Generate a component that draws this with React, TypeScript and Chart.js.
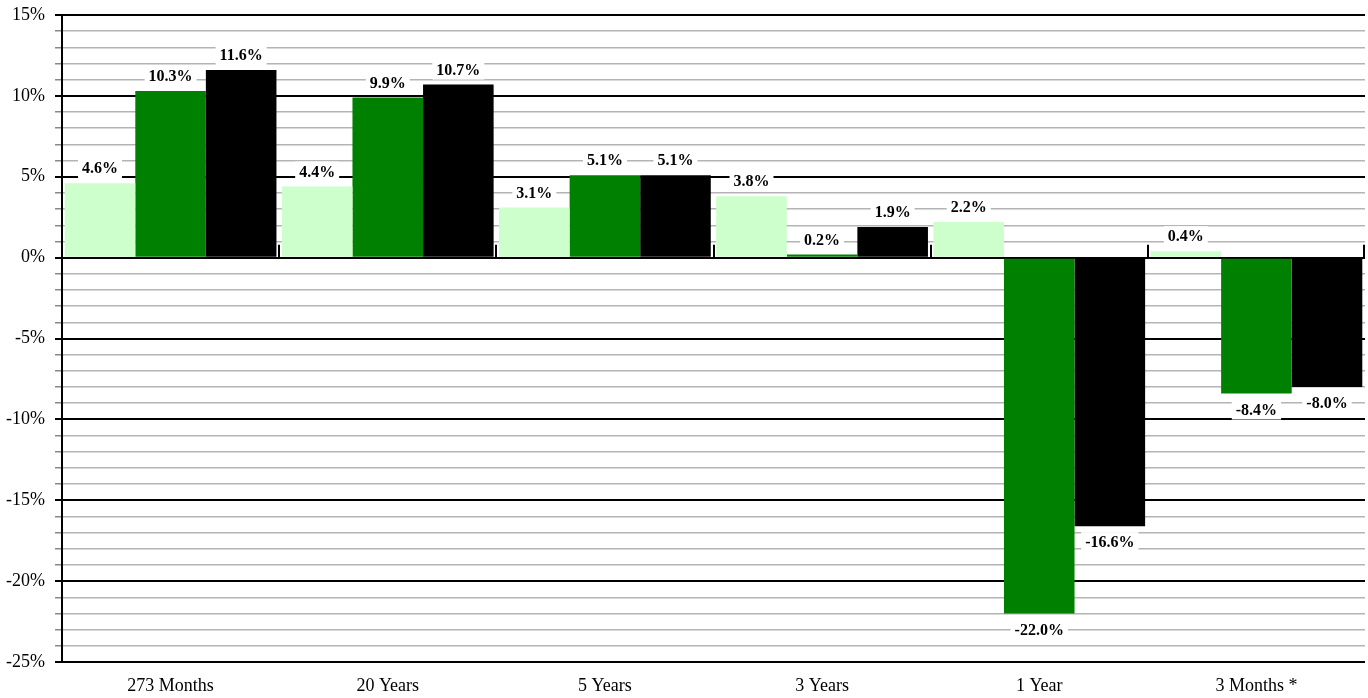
import React, { useEffect, useRef } from "react";
import { Chart, registerables } from "chart.js";

Chart.register(...registerables);

const categories = ["273 Months", "20 Years", "5 Years", "3 Years", "1 Year", "3 Months *"];
const seriesLight = [4.6, 4.4, 3.1, 3.8, 2.2, 0.4];
const seriesGreen = [10.3, 9.9, 5.1, 0.2, -22.0, -8.4];
const seriesBlack = [11.6, 10.7, 5.1, 1.9, -16.6, -8.0];
const yMin = -25;
const yMax = 15;

const SERIF = "'Liberation Serif', 'Times New Roman', serif";

const labelPlugin = {
  id: "valueLabels",
  afterDatasetsDraw(chart: any) {
    const { ctx } = chart;
    const yScale = chart.scales.y;
    const y0 = yScale.getPixelForValue(0);
    const n = categories.length;
    const left = chart.chartArea.left;
    const right = chart.chartArea.right;
    const cw = (right - left) / n;
    ctx.save();
    ctx.strokeStyle = "#000";
    ctx.lineWidth = 2;
    for (let i = 1; i <= n; i++) {
      const x = Math.round(left + cw * i) - (i === n ? 1 : 0);
      ctx.beginPath();
      ctx.moveTo(x, y0 - 13);
      ctx.lineTo(x, y0);
      ctx.stroke();
    }
    ctx.font = `bold 16px ${SERIF}`;
    ctx.textAlign = "center";
    ctx.textBaseline = "middle";
    chart.data.datasets.forEach((ds: any, di: number) => {
      const meta = chart.getDatasetMeta(di);
      meta.data.forEach((el: any, i: number) => {
        const v = ds.data[i];
        const txt = v.toFixed(1) + "%";
        const cy = v >= 0 ? el.y - 15 : el.y + 16;
        const w = ctx.measureText(txt).width + 8;
        ctx.fillStyle = "#fff";
        ctx.fillRect(el.x - w / 2, cy - 10, w, 20);
        ctx.fillStyle = "#000";
        ctx.fillText(txt, el.x, cy + 1);
      });
    });
    ctx.restore();
  },
};

export default function App() {
  const ref = useRef<HTMLCanvasElement>(null);
  useEffect(() => {
    document.body.style.margin = "0";
    const chart = new Chart(ref.current as HTMLCanvasElement, {
      type: "bar",
      data: {
        labels: categories,
        datasets: [
          { data: seriesLight, backgroundColor: "#CCFFCC", borderWidth: 0 },
          { data: seriesGreen, backgroundColor: "#008000", borderWidth: 0 },
          { data: seriesBlack, backgroundColor: "#000000", borderWidth: 0 },
        ],
      },
      options: {
        animation: false,
        responsive: false,
        layout: { padding: { top: 15, right: 3, left: 0, bottom: 0 } },
        datasets: { bar: { categoryPercentage: 0.975, barPercentage: 1.0 } },
        plugins: { legend: { display: false }, tooltip: { enabled: false } },
        scales: {
          x: {
            grid: { display: false },
            border: { display: false },
            ticks: { color: "#000", font: { family: SERIF, size: 18 }, padding: 5, maxRotation: 0 },
            afterFit: (s: any) => { s.height = 36; s.paddingLeft = 0; s.paddingRight = 0; },
          },
          y: {
            min: yMin,
            max: yMax,
            ticks: {
              stepSize: 1,
              autoSkip: false,
              color: "#000",
              font: { family: SERIF, size: 18 },
              padding: 10,
              callback: (v: any) => (Number(v) % 5 === 0 ? v + "%" : ""),
            },
            grid: {
              color: (c: any) => (c.tick && c.tick.value % 5 === 0 ? "#000" : "#b4b4b4"),
              lineWidth: (c: any) => (c.tick && c.tick.value % 5 === 0 ? 2 : 1.5),
              tickLength: 7,
              tickColor: (c: any) => (c.tick && c.tick.value % 5 === 0 ? "#000" : "#888"),
            },
            border: { display: true, color: "#000", width: 2 },
            afterFit: (s: any) => { s.width = 62; s.paddingTop = 0; s.paddingBottom = 0; },
          },
        },
      },
      plugins: [labelPlugin],
    });
    return () => chart.destroy();
  }, []);
  return <canvas ref={ref} width={1368} height={698} style={{ display: "block" }} />;
}
